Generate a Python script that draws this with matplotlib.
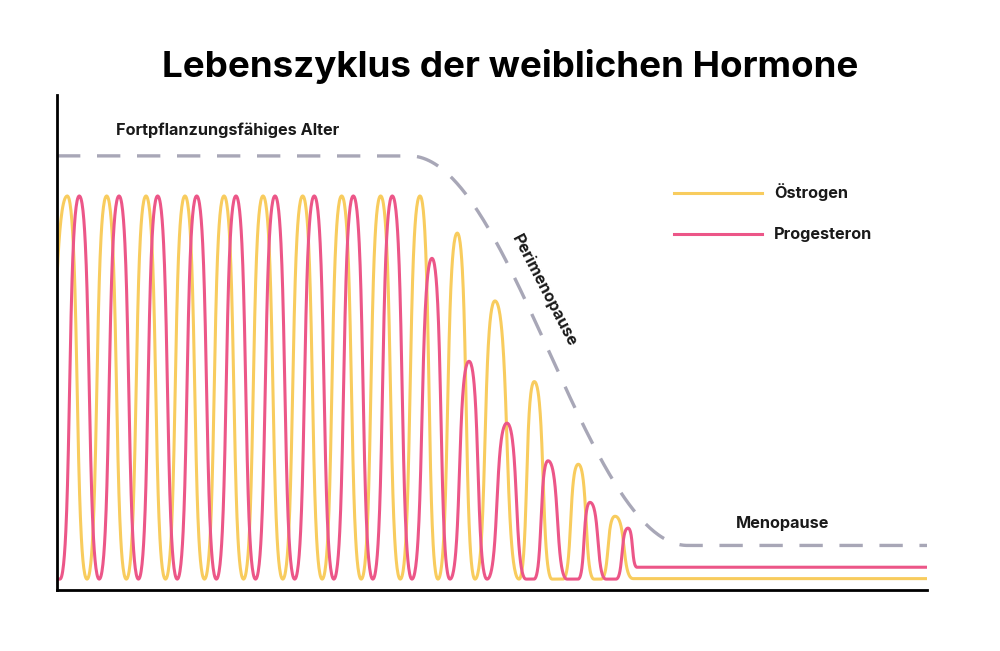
import numpy as np
import matplotlib
matplotlib.use("Agg")
import matplotlib.pyplot as plt

plt.rcParams['font.family'] = ['Inter', 'DejaVu Sans']

# Werte (x: 0..100 Lebenszeit, y: 0..100 Hormonspiegel)
oestrogen_peak_x = [1.18, 5.71, 10.23, 14.71, 19.20, 23.68, 28.24, 32.72, 37.20, 41.72,
                    46.01, 50.34, 54.86, 59.92, 64.14]
oestrogen_peak_y = [79.6, 79.6, 79.6, 79.6, 79.6, 79.6, 79.6, 79.6, 79.6, 79.6,
                    72.1, 58.4, 42.1, 25.4, 14.9]
# Täler: Anfang und Ende (gleich, wenn das Tal nur ein Punkt ist)
oestrogen_trough_start = [-2.0, 3.45, 7.97, 12.47, 16.95, 21.44, 25.95, 30.48, 34.97, 39.46,
                          43.79, 48.05, 53.10, 56.90, 61.72, 66.21]
oestrogen_trough_end = [-2.0, 3.45, 7.97, 12.47, 16.95, 21.44, 25.95, 30.48, 34.97, 39.46,
                        43.79, 48.05, 53.10, 58.16, 62.53, 66.21]

progesteron_peak_x = [2.56, 7.13, 11.57, 16.06, 20.57, 25.06, 29.57, 34.06, 38.54, 43.10,
                      47.36, 51.72, 56.44, 61.26, 65.63]
progesteron_peak_y = [79.6, 79.6, 79.6, 79.6, 79.6, 79.6, 79.6, 79.6, 79.6, 67.0,
                      46.2, 33.7, 26.1, 17.7, 12.5]
progesteron_trough_start = [0.0, 4.85, 9.36, 13.82, 18.32, 22.82, 27.32, 31.82, 36.30, 40.80,
                            45.17, 49.43, 53.91, 58.62, 63.10]
progesteron_trough_end = [0.34, 4.85, 9.36, 13.82, 18.32, 22.82, 27.32, 31.82, 36.30, 40.80,
                          45.17, 49.43, 54.83, 59.89, 64.25]

trough_level = 2.2
oestrogen_tail = 2.3
progesteron_end_x = 66.67
progesteron_tail = 4.6

phase_x = [0, 40.5, 72.5, 100]
phase_y = [87.7, 87.7, 9.0, 9.0]

labels = ["Östrogen", "Progesteron"]
yellow = "#F8CC5E"
pink = "#EC5688"
grey = "#A8A7B7"


def bezier_wave(kx, ky, k=0.62, n=60):
    # Bezier-Kurve mit waagrechten Tangenten an jedem Extrempunkt
    xs, ys = [], []
    t = np.linspace(0, 1, n)
    bx = 3 * (1 - t) ** 2 * t * k + 3 * (1 - t) * t ** 2 * (1 - k) + t ** 3
    by = 3 * (1 - t) * t ** 2 + t ** 3
    for i in range(len(kx) - 1):
        xs.append(kx[i] + (kx[i + 1] - kx[i]) * bx)
        ys.append(ky[i] + (ky[i + 1] - ky[i]) * by)
    return np.concatenate(xs), np.concatenate(ys)


def cos_curve(kx, ky, n=200):
    xs, ys = [], []
    t = np.linspace(0, 1, n)
    s = (1 - np.cos(np.pi * t)) / 2
    for i in range(len(kx) - 1):
        xs.append(kx[i] + (kx[i + 1] - kx[i]) * t)
        ys.append(ky[i] + (ky[i + 1] - ky[i]) * s)
    return np.concatenate(xs), np.concatenate(ys)


# Östrogen: Tal, Spitze, Tal, ... dann flach
ox, oy = [], []
for i in range(len(oestrogen_peak_x)):
    ox += [oestrogen_trough_start[i], oestrogen_trough_end[i], oestrogen_peak_x[i]]
    oy += [trough_level, trough_level, oestrogen_peak_y[i]]
ox += [oestrogen_trough_start[-1], 100]
oy += [oestrogen_tail, oestrogen_tail]

# Progesteron
px, py = [], []
for i in range(len(progesteron_peak_x)):
    px += [progesteron_trough_start[i], progesteron_trough_end[i], progesteron_peak_x[i]]
    py += [trough_level, trough_level, progesteron_peak_y[i]]
px += [progesteron_end_x, 100]
py += [progesteron_tail, progesteron_tail]

fig = plt.figure(figsize=(10, 6.51), dpi=100)
ax = fig.add_axes([0.057, 0.0937, 0.87, 0.7604])

x1, y1 = bezier_wave(ox, oy)
x2, y2 = bezier_wave(px, py)
x3, y3 = cos_curve(phase_x, phase_y)

ax.plot(x3, y3, color=grey, lw=2.4, dashes=(7, 5), dash_capstyle='butt')
ax.plot(x1, y1, color=yellow, lw=2.2, label=labels[0])
ax.plot(x2, y2, color=pink, lw=2.2, label=labels[1])

ax.set_xlim(0, 100)
ax.set_ylim(0, 100)
ax.set_xticks([])
ax.set_yticks([])
for s in ["top", "right"]:
    ax.spines[s].set_visible(False)
for s in ["left", "bottom"]:
    ax.spines[s].set_linewidth(2.0)
    ax.spines[s].set_color("black")

ax.text(19.66, 92.9, "Fortpflanzungsfähiges Alter", ha='center', va='center',
        fontsize=11.7, fontweight='bold', color='#1a1a1a')
ax.text(56.0, 60.4, "Perimenopause", ha='center', va='center', rotation=-62.6,
        rotation_mode='anchor', fontsize=11.7, fontweight='bold', color='#1a1a1a')
ax.text(83.4, 13.5, "Menopause", ha='center', va='center',
        fontsize=11.7, fontweight='bold', color='#1a1a1a')

leg = ax.legend(loc='upper left', bbox_to_anchor=(0.674, 0.718), bbox_transform=fig.transFigure,
                frameon=False, fontsize=11.7, handlelength=5.4, handletextpad=0.75,
                labelspacing=1.6, borderpad=0, borderaxespad=0)
for t in leg.get_texts():
    t.set_fontweight('bold')
    t.set_color('#1a1a1a')

fig.text(0.51, 0.898, "Lebenszyklus der weiblichen Hormone", ha='center', va='center',
         fontsize=26.5, fontweight='bold', color='black')

fig.savefig("out.png", dpi=100)
